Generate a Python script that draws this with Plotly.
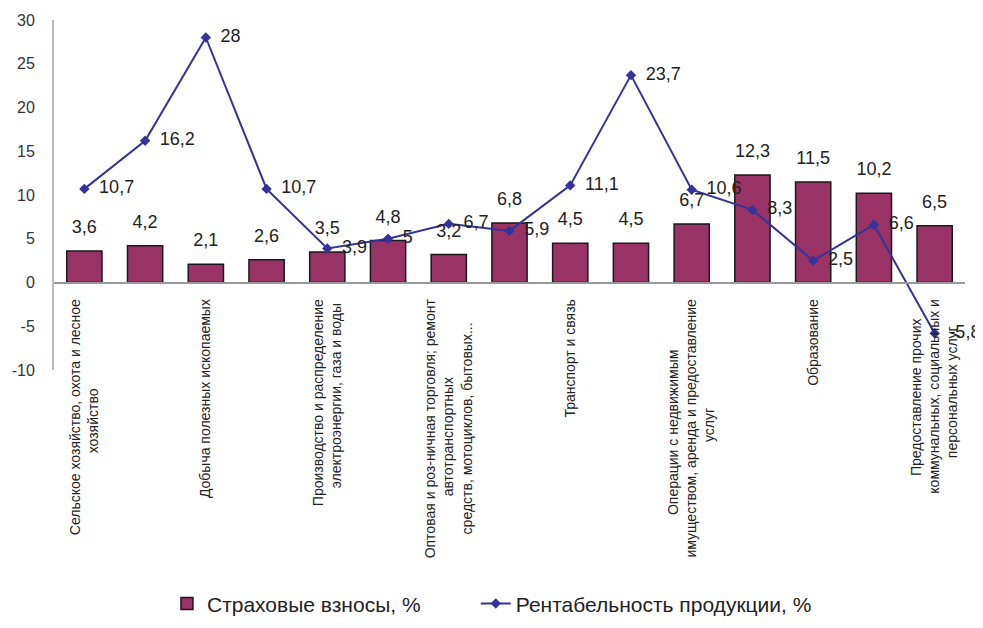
import plotly.graph_objects as go

categories = [
    "Сельское хозяйство, охота и лесное хозяйство",
    "Рыболовство, рыбоводство",
    "Добыча полезных ископаемых",
    "Обрабатывающие производства",
    "Производство и распределение электроэнергии, газа и воды",
    "Строительство",
    "Оптовая и розничная торговля; ремонт автотранспортных средств, мотоциклов, бытовых...",
    "Гостиницы и рестораны",
    "Транспорт и связь",
    "Финансовая деятельность",
    "Операции с недвижимым имуществом, аренда и предоставление услуг",
    "Государственное управление",
    "Образование",
    "Здравоохранение и предоставление социальных услуг",
    "Предоставление прочих коммунальных, социальных и персональных услуг",
]
tick_label_lines = [
    ["Сельское хозяйство, охота и лесное", "хозяйство"],
    ["Добыча полезных ископаемых"],
    ["Производство и распределение", "электроэнергии, газа и воды"],
    ["Оптовая и роз-ничная торговля; ремонт", "автотранспортных", "средств, мотоциклов, бытовых..."],
    ["Транспорт и связь"],
    ["Операции с недвижимым", "имуществом, аренда и предоставление", "услуг"],
    ["Образование"],
    ["Предоставление прочих", "коммунальных, социальных и", "персональных услуг"],
]
y_tick_values = [-10, -5, 0, 5, 10, 15, 20, 25, 30]
y_tick_labels = ["-10", "-5", "0", "5", "10", "15", "20", "25", "30"]
insurance = [3.6, 4.2, 2.1, 2.6, 3.5, 4.8, 3.2, 6.8, 4.5, 4.5, 6.7, 12.3, 11.5, 10.2, 6.5]
profitability = [10.7, 16.2, 28, 10.7, 3.9, 5, 6.7, 5.9, 11.1, 23.7, 10.6, 8.3, 2.5, 6.6, -5.8]


def fmt(v):
    return ("%g" % v).replace(".", ",")


def centered(lines):
    # labels are anchored at their end; pad shorter lines so they look centred
    longest = max(len(s) for s in lines)
    out = []
    for s in lines:
        pad = int(round((longest - len(s)) * 0.93))
        out.append(s + "\u00a0" * pad)
    return "<br>".join(out)


tick_labels = [centered(l) for l in tick_label_lines]

FONT = "Liberation Sans, Arial, sans-serif"
LABEL_FONT = dict(size=18, color="#222222", family=FONT)
LEGEND_FONT = dict(size=21, family=FONT, color="#222222")

fig = go.Figure()
fig.add_trace(go.Bar(
    x=categories, y=insurance,
    name="Страховые взносы, %",
    marker=dict(color="#993366", line=dict(color="#1a1a1a", width=1.5)),
    hoverinfo="x+y",
    legend="legend",
))
fig.add_trace(go.Scatter(
    x=categories, y=profitability,
    name="Рентабельность продукции, %",
    mode="lines+markers",
    line=dict(color="#333399", width=2),
    marker=dict(symbol="diamond", size=8, color="#333399"),
    legend="legend2",
))
# data labels for bars
fig.add_trace(go.Scatter(
    x=categories, y=insurance,
    mode="markers+text",
    marker=dict(size=20, opacity=0),
    text=[fmt(v) for v in insurance],
    textposition="top center",
    textfont=LABEL_FONT,
    showlegend=False, hoverinfo="skip",
    cliponaxis=False,
))
# data labels for line
fig.add_trace(go.Scatter(
    x=categories, y=profitability,
    mode="markers+text",
    marker=dict(size=22, opacity=0),
    text=[fmt(v) for v in profitability],
    textposition="middle right",
    textfont=LABEL_FONT,
    showlegend=False, hoverinfo="skip",
    cliponaxis=False,
))

fig.update_layout(
    width=983, height=628,
    margin=dict(l=46, r=26, t=12, b=264),
    paper_bgcolor="white", plot_bgcolor="white",
    font=dict(family=FONT, color="#222222"),
    bargap=0.42,
    showlegend=True,
    legend=dict(orientation="h", x=0.124, xanchor="left", y=-0.668, yanchor="middle",
                font=LEGEND_FONT, itemwidth=30),
    legend2=dict(orientation="h", x=0.463, xanchor="left", y=-0.668, yanchor="middle",
                 font=LEGEND_FONT, itemwidth=30),
    xaxis=dict(
        type="category",
        range=[-0.5, 14.5],
        tickmode="array",
        tickvals=categories[0::2],
        ticktext=tick_labels,
        tickangle=-90,
        tickfont=dict(size=14, family=FONT, color="#222222"),
        showline=True, linecolor="#999999", linewidth=2,
        ticks="", ticklabelstandoff=10,
        anchor="free", position=0.25,
        showgrid=False, zeroline=False,
        automargin=False,
    ),
    yaxis=dict(
        range=[-10, 30],
        tickmode="array",
        tickvals=y_tick_values,
        ticktext=y_tick_labels,
        tickfont=dict(size=16, family=FONT, color="#333333"),
        showline=True, linecolor="#bbbbbb", linewidth=2,
        showgrid=False, zeroline=False,
        ticks="", ticklabelstandoff=14,
        automargin=False,
    ),
)

fig.write_html("out.html")
